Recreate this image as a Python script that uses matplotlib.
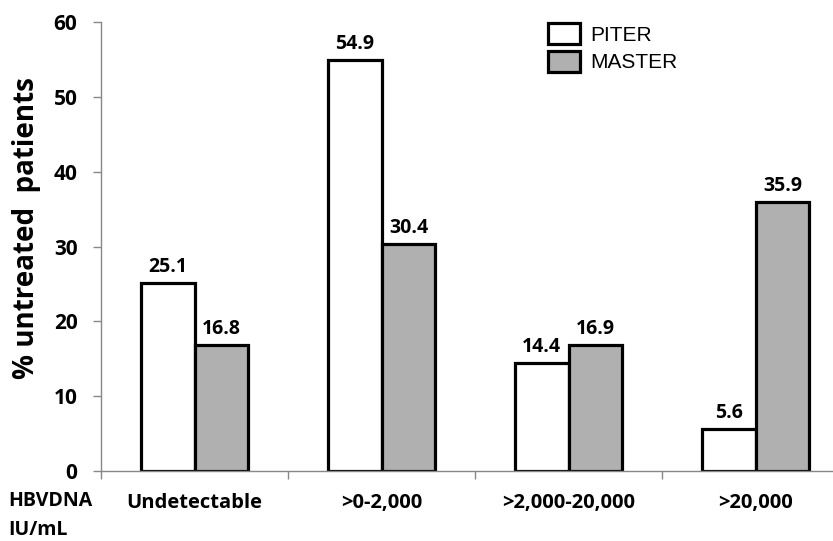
import matplotlib
matplotlib.use('Agg')
import matplotlib.pyplot as plt
import numpy as np

categories = ['Undetectable', '>0-2,000', '>2,000-20,000', '>20,000']
piter = [25.1, 54.9, 14.4, 5.6]
master = [16.8, 30.4, 16.9, 35.9]
yticks = [0, 10, 20, 30, 40, 50, 60]

plt.rcParams['font.family'] = ['Open Sans', 'DejaVu Sans']

fig = plt.figure(figsize=(8.33, 5.41), dpi=100)
ax = fig.add_axes([0.1213, 0.1294, 0.8787, 0.8299])

x = np.arange(len(categories))
w = 0.288
b1 = ax.bar(x - w / 2, piter, w, color='white', edgecolor='black', linewidth=2.3, label='PITER')
b2 = ax.bar(x + w / 2, master, w, color='#b0b0b0', edgecolor='black', linewidth=2.3, label='MASTER')

for bars, vals in [(b1, piter), (b2, master)]:
    for r, v in zip(bars, vals):
        ax.text(r.get_x() + r.get_width() / 2, v + 0.8, '%.1f' % v, ha='center', va='bottom',
                fontsize=14, fontweight='bold')

ax.set_xlim(-0.5, 3.414)
ax.set_ylim(0, 60)
ax.set_yticks(yticks)
ax.set_yticklabels([str(t) for t in yticks], fontsize=15, fontweight='bold')
ax.set_xticks(x)
ax.set_xticklabels(categories, fontsize=14.5, fontweight='bold')
ax.set_xticks(np.arange(-0.5, 3.5, 1.0), minor=True)
ax.tick_params(axis='x', which='major', length=0, pad=16)
ax.tick_params(axis='x', which='minor', length=6, color='#888888', width=1)
ax.tick_params(axis='y', length=6, color='#888888', width=1, pad=11)

for s in ['top', 'right']:
    ax.spines[s].set_visible(False)
for s in ['left', 'bottom']:
    ax.spines[s].set_color('#888888')
    ax.spines[s].set_linewidth(1)

ax.set_ylabel('% untreated  patients', fontsize=20, fontweight='bold')
ax.yaxis.set_label_coords(-0.082, 0.54)

fig.text(0.010, 0.047, 'HBVDNA\nIU/mL', fontsize=14, fontweight='bold', ha='left', va='center',
         linespacing=1.6)

leg = ax.legend(loc='upper left', bbox_to_anchor=(0.585, 1.04), frameon=False,
                prop={'family': 'Liberation Sans', 'size': 15},
                handlelength=1.55, handleheight=1.2, labelspacing=0.3, handletextpad=0.5)
for p in leg.get_patches():
    p.set_linewidth(2.3)

fig.savefig('out.png', dpi=100)
